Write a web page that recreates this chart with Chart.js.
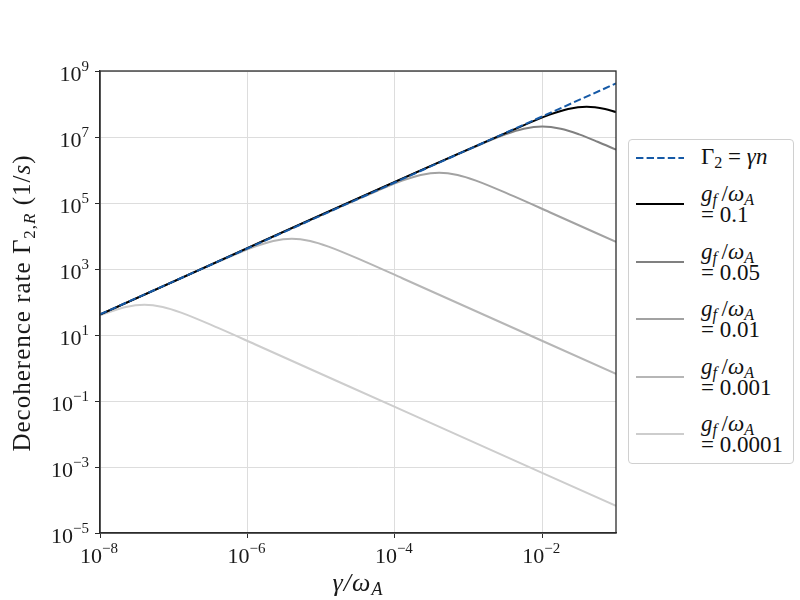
<!DOCTYPE html>
<html>
<head>
<meta charset="utf-8">
<script src="https://cdn.jsdelivr.net/npm/chart.js@4/dist/chart.umd.min.js"></script>
<style>
  body { margin: 0; background: #fff; }
  #wrap { position: relative; width: 800px; height: 600px; font-family: 'Liberation Serif', 'DejaVu Serif', serif; color: #111; }
  canvas { position: absolute; left: 0; top: 0; }
  sub { font-size: 0.7em; vertical-align: -0.25em; line-height: 0; }
  #legend { position: absolute; left: 628px; top: 139px; width: 166px; height: 325px; border: 1px solid #d0d0d0; border-radius: 4px; background: #fff; box-sizing: border-box; }
  .row { position: absolute; left: 0; width: 100%; }
  .sample { position: absolute; left: 7px; top: -2px; }
  .lbl { position: absolute; left: 72px; font-size: 23px; line-height: 21px; white-space: nowrap; }
</style>
</head>
<body>
<div id="wrap">
  <canvas id="c" width="800" height="600"></canvas>
  <div id="legend"></div>
</div>
<script>
// x positions (gamma / omega_A) and decoherence rates
const refX = [1e-8, 1e-1];
const refY = [42, 4.2e8];

const g01X = [1e-8, 4e-3, 1.26e-2, 2.24e-2, 4e-2, 7.1e-2, 1e-1];
const g01Y = [41.7, 1.64e7, 4.78e7, 7.1e7, 8.3e7, 7.1e7, 5.7e7];

const g005X = [1e-8, 1e-3, 3.16e-3, 5.62e-3, 1e-2, 1.78e-2, 3.16e-2, 5.62e-2, 1e-1];
const g005Y = [41.7, 4.13e6, 1.2e7, 1.78e7, 2.08e7, 1.78e7, 1.2e7, 7.19e6, 4.13e6];

const g001X = [1e-8, 4e-5, 1.26e-4, 2.24e-4, 4e-4, 7.1e-4, 1.26e-3, 4e-3, 1.26e-2, 1e-1];
const g001Y = [41.7, 1.64e5, 4.78e5, 7.1e5, 8.3e5, 7.1e5, 4.78e5, 1.64e5, 5.25e4, 6.6e3];

const g0001X = [1e-8, 4e-7, 1.26e-6, 2.24e-6, 4e-6, 7.1e-6, 1.26e-5, 4e-5, 1.26e-4, 1e-1];
const g0001Y = [41.7, 1644, 4775, 7096, 8299, 7096, 4775, 1644, 525, 0.66];

const g00001X = [1e-8, 2.24e-8, 4e-8, 7.1e-8, 1.26e-7, 4e-7, 1.26e-6, 1e-4, 1e-1];
const g00001Y = [39.2, 71, 83, 71, 47.8, 16.4, 5.25, 0.066, 6.6e-5];

const gLabels = ['0.1', '0.05', '0.01', '0.001', '0.0001'];
const xTicks = [1e-8, 1e-6, 1e-4, 1e-2];
const yTicks = [1e-5, 1e-3, 1e-1, 1e1, 1e3, 1e5, 1e7, 1e9];

const blue = '#1559a6';
const grays = ['#000000', '#808080', '#a2a2a2', '#b6b6b6', '#cdcdcd'];
const dash = [7.4, 3.2];
const serif = "'Liberation Serif', 'DejaVu Serif', serif";

const pts = (xs, ys) => xs.map((x, i) => ({ x: x, y: ys[i] }));

const datasets = [
  { label: 'ref', data: pts(refX, refY), borderColor: blue, borderDash: dash, borderWidth: 2 },
  { label: gLabels[0], data: pts(g01X, g01Y), borderColor: grays[0], borderWidth: 2 },
  { label: gLabels[1], data: pts(g005X, g005Y), borderColor: grays[1], borderWidth: 2 },
  { label: gLabels[2], data: pts(g001X, g001Y), borderColor: grays[2], borderWidth: 2 },
  { label: gLabels[3], data: pts(g0001X, g0001Y), borderColor: grays[3], borderWidth: 2 },
  { label: gLabels[4], data: pts(g00001X, g00001Y), borderColor: grays[4], borderWidth: 2 },
];
datasets.forEach(d => {
  d.pointRadius = 0;
  d.fill = false;
  d.cubicInterpolationMode = 'monotone';
});

// [text, fontSize, italic, dy] pieces, drawn left to right
function richWidth(ctx, parts) {
  let w = 0;
  parts.forEach(p => { ctx.font = (p[2] ? 'italic ' : '') + p[1] + 'px ' + serif; w += ctx.measureText(p[0]).width; });
  return w;
}
function drawRich(ctx, parts, x, y) {
  parts.forEach(p => {
    ctx.font = (p[2] ? 'italic ' : '') + p[1] + 'px ' + serif;
    ctx.fillText(p[0], x, y + p[3]);
    x += ctx.measureText(p[0]).width;
  });
}
const expParts = v => {
  const e = Math.round(Math.log10(v));
  return [['10', 22, false, 0], [(e < 0 ? '\u2212' : '') + Math.abs(e), 15, false, -10]];
};

const decor = {
  id: 'decor',
  afterDraw(chart) {
    const a = chart.chartArea, ctx = chart.ctx;
    ctx.save();
    ctx.strokeStyle = '#2b2b2b';
    ctx.lineWidth = 1.3;
    ctx.strokeRect(a.left, a.top, a.right - a.left, a.bottom - a.top);

    ctx.fillStyle = '#1a1a1a';
    ctx.textAlign = 'left';
    ctx.textBaseline = 'alphabetic';
    const xs = chart.scales.x, ys = chart.scales.y;
    xTicks.forEach(v => {
      const parts = expParts(v);
      const w = richWidth(ctx, parts);
      drawRich(ctx, parts, xs.getPixelForValue(v) - w / 2 - 1, a.bottom + 30);
    });
    yTicks.forEach(v => {
      const parts = expParts(v);
      const w = richWidth(ctx, parts);
      drawRich(ctx, parts, a.left - 11 - w, ys.getPixelForValue(v) + 10);
    });

    // axis titles
    ctx.letterSpacing = '1px';
    const xt = [['\u03b3/\u03c9', 26, true, 0], ['A', 18, true, 4]];
    drawRich(ctx, xt, (a.left + a.right) / 2 - richWidth(ctx, xt) / 2, 591);
    const yt = [['Decoherence rate \u0393', 25, false, 0], ['2,', 17, false, 5], ['R', 17, true, 5], [' (1/', 25, false, 0], ['s', 25, true, 0], [')', 25, false, 0]];
    const yw = richWidth(ctx, yt);
    ctx.translate(30, (a.top + a.bottom) / 2 + 1);
    ctx.rotate(-Math.PI / 2);
    drawRich(ctx, yt, -yw / 2, 0);
    ctx.restore();
  }
};

new Chart(document.getElementById('c'), {
  type: 'line',
  data: { datasets },
  options: {
    responsive: false,
    animation: false,
    layout: { padding: { left: 0, top: 71, right: 184, bottom: 0 } },
    plugins: { legend: { display: false }, tooltip: { enabled: false } },
    scales: {
      x: {
        type: 'logarithmic',
        min: 1e-8, max: 1e-1,
        afterBuildTicks: s => { s.ticks = xTicks.map(v => ({ value: v })); },
        afterFit: s => { s.height = 67; },
        ticks: { display: false },
        grid: { color: '#dddddd', tickColor: '#2b2b2b', tickLength: 5, lineWidth: 1 },
        border: { color: '#2b2b2b', width: 1.3 },
      },
      y: {
        type: 'logarithmic',
        min: 1e-5, max: 1e9,
        afterBuildTicks: s => { s.ticks = yTicks.map(v => ({ value: v })); },
        afterFit: s => { s.width = 100; },
        ticks: { display: false },
        grid: { color: '#dddddd', tickColor: '#2b2b2b', tickLength: 5, lineWidth: 1 },
        border: { color: '#2b2b2b', width: 1.3 },
      },
    },
  },
  plugins: [decor],
});

// legend built from the same datasets
const legend = document.getElementById('legend');
datasets.forEach((d, i) => {
  const row = document.createElement('div');
  row.className = 'row';
  const da = d.borderDash ? ' stroke-dasharray="' + d.borderDash.join(' ') + '"' : '';
  const sample = '<svg class="sample" width="48" height="4"><line x1="0" y1="2" x2="48" y2="2" stroke="' + d.borderColor + '" stroke-width="2"' + da + '/></svg>';
  let lbl;
  if (i === 0) {
    row.style.top = '18px';
    lbl = '<div class="lbl" style="top:-12px">&Gamma;<sub>2</sub> = <i>&gamma;n</i></div>';
  } else {
    row.style.top = (64 + (i - 1) * 57.5) + 'px';
    lbl = '<div class="lbl" style="top:-21px"><i>g<sub>f</sub></i>&thinsp;/<i>&omega;<sub>A</sub></i><br>= ' + d.label + '</div>';
  }
  row.innerHTML = sample + lbl;
  legend.appendChild(row);
});
</script>
</body>
</html>
